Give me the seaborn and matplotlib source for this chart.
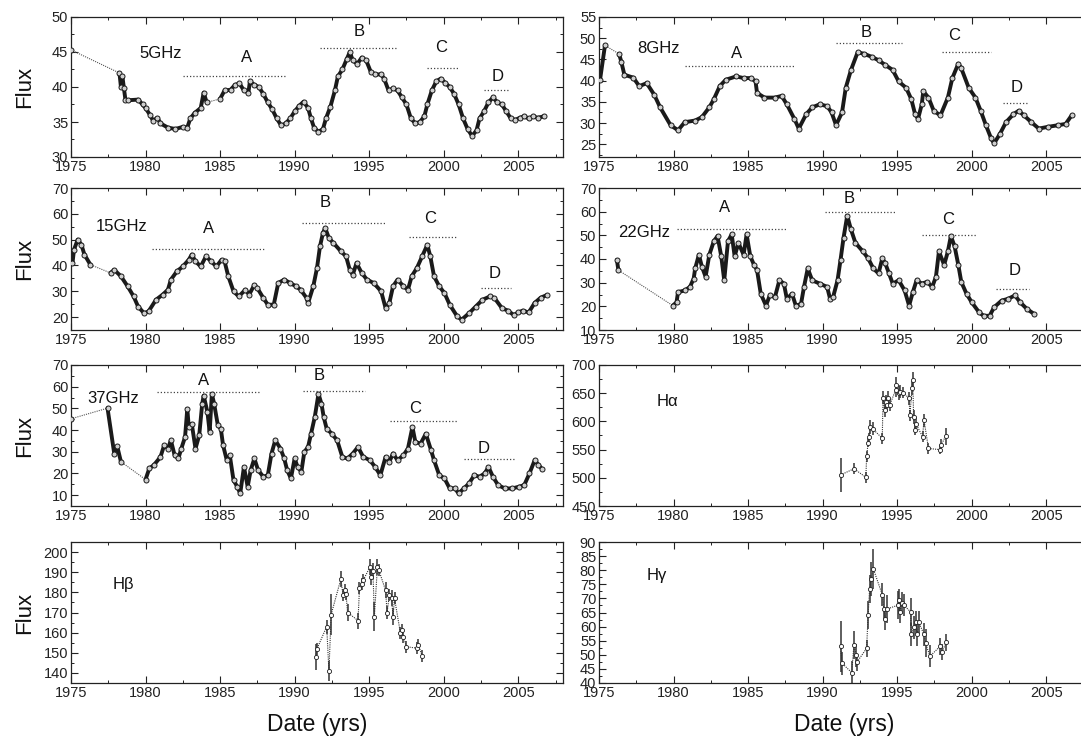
import numpy as np
import pandas as pd
import matplotlib
matplotlib.use("Agg")
import matplotlib.pyplot as plt
from matplotlib.ticker import MultipleLocator
import seaborn as sns

# ---------------- data ----------------
f5_year = [1975.0, 1978.25, 1978.35, 1978.45, 1978.55, 1978.65, 1978.8, 1979.5, 1979.8, 1980.0, 1980.3,
           1980.5, 1980.8, 1981.0, 1981.5, 1982.0, 1982.5, 1982.8, 1983.0, 1983.3, 1983.7, 1983.9,
           1984.1, 1985.0, 1985.3, 1985.7, 1986.0, 1986.3, 1986.6, 1986.9, 1987.0, 1987.3, 1987.6,
           1987.9, 1988.2, 1988.5, 1988.8, 1989.1, 1989.4, 1989.7, 1990.0, 1990.3, 1990.6, 1990.9,
           1991.1, 1991.3, 1991.6, 1991.9, 1992.1, 1992.4, 1992.7, 1992.9, 1993.2, 1993.5, 1993.7,
           1993.9, 1994.2, 1994.5, 1994.8, 1995.1, 1995.4, 1995.8, 1996.0, 1996.3, 1996.6, 1996.9,
           1997.2, 1997.5, 1997.8, 1998.1, 1998.4, 1998.7, 1998.9, 1999.2, 1999.5, 1999.8, 2000.1,
           2000.4, 2000.7, 2001.0, 2001.3, 2001.6, 2001.9, 2002.2, 2002.4, 2002.7, 2003.0, 2003.3,
           2003.6, 2003.9, 2004.2, 2004.5, 2004.8, 2005.1, 2005.4, 2005.7, 2006.0, 2006.3, 2006.7]
f5_flux = [45.3, 42.0, 40.0, 41.5, 39.8, 38.2, 38.1, 38.2, 37.5, 37.0, 36.0,
           35.2, 35.6, 34.8, 34.2, 34.0, 34.3, 34.2, 35.5, 36.3, 37.0, 39.2,
           37.8, 38.3, 39.5, 39.6, 40.3, 40.5, 39.5, 39.2, 40.8, 40.3, 40.0,
           39.0, 37.8, 36.8, 35.5, 34.5, 34.8, 35.5, 36.5, 37.3, 37.9, 37.0,
           35.5, 34.2, 33.6, 34.0, 35.5, 37.2, 39.5, 41.5, 42.5, 44.0, 45.0,
           43.8, 43.3, 44.2, 43.8, 42.2, 41.8, 41.8, 41.2, 39.5, 39.8, 39.5,
           38.5, 37.5, 35.5, 34.8, 35.0, 35.8, 37.5, 39.5, 40.8, 41.2, 40.6,
           40.0, 39.0, 37.5, 35.5, 34.0, 33.0, 33.8, 35.5, 36.5, 37.8, 38.5,
           37.8, 37.5, 36.5, 35.5, 35.3, 35.6, 35.8, 35.5, 35.8, 35.6, 35.8]

f8_year = [1975.07, 1975.4, 1976.35, 1976.5, 1976.7, 1977.3, 1977.7, 1978.2, 1978.7, 1979.1, 1979.8,
           1980.3, 1980.75, 1981.45, 1981.9, 1982.4, 1982.7, 1983.1, 1983.5, 1984.2, 1984.7, 1985.2,
           1985.5, 1985.6, 1986.1, 1986.8, 1987.25, 1987.6, 1988.1, 1988.4, 1988.9, 1989.3, 1989.8,
           1990.3, 1990.6, 1990.9, 1991.3, 1991.55, 1991.9, 1992.35, 1992.8, 1993.3, 1993.75, 1994.2,
           1994.7, 1995.1, 1995.6, 1995.95, 1996.2, 1996.4, 1996.65, 1996.75, 1997.1, 1997.45, 1997.9,
           1998.4, 1998.7, 1999.1, 1999.3, 1999.8, 2000.25, 2000.6, 2000.95, 2001.3, 2001.5, 2001.9,
           2002.3, 2002.8, 2003.15, 2003.5, 2004.0, 2004.5, 2005.1, 2005.8, 2006.3, 2006.7]
f8_flux = [40.2, 48.3, 46.3, 44.4, 41.4, 40.7, 38.7, 39.4, 36.7, 33.7, 29.5,
           28.3, 30.2, 30.6, 31.4, 33.7, 35.6, 38.7, 40.2, 41.0, 40.6, 40.6,
           39.8, 37.1, 36.0, 36.0, 36.4, 34.4, 31.0, 28.7, 32.1, 33.7, 34.4,
           34.0, 32.5, 29.5, 32.5, 38.3, 42.5, 46.7, 46.3, 45.6, 44.8, 43.7,
           42.5, 39.8, 38.3, 35.6, 32.1, 31.0, 34.4, 37.5, 36.0, 32.9, 31.8,
           36.0, 40.6, 44.0, 42.9, 38.3, 36.0, 32.9, 29.5, 26.4, 25.2, 27.5,
           30.2, 32.1, 32.9, 31.8, 30.2, 28.7, 29.1, 29.5, 29.8, 31.8]

f15_year = [1975.1, 1975.2, 1975.45, 1975.7, 1975.9, 1976.3, 1977.65, 1977.9, 1978.35, 1978.8, 1979.2,
            1979.5, 1979.9, 1980.2, 1980.7, 1981.15, 1981.5, 1981.7, 1982.1, 1982.5, 1982.9, 1983.1,
            1983.35, 1983.7, 1984.05, 1984.4, 1984.75, 1985.1, 1985.3, 1985.55, 1985.9, 1986.25, 1986.7,
            1986.95, 1987.3, 1987.5, 1987.9, 1988.2, 1988.6, 1988.9, 1989.3, 1989.7, 1990.1, 1990.4,
            1990.8, 1990.9, 1991.25, 1991.5, 1991.7, 1991.9, 1992.05, 1992.3, 1992.6, 1993.1, 1993.45,
            1993.7, 1993.9, 1994.15, 1994.5, 1994.85, 1995.3, 1995.8, 1996.1, 1996.35, 1996.6, 1996.9,
            1997.3, 1997.6, 1997.85, 1998.2, 1998.55, 1998.9, 1999.1, 1999.35, 1999.7, 2000.05, 2000.4,
            2000.9, 2001.2, 2001.7, 2002.15, 2002.6, 2003.1, 2003.4, 2003.9, 2004.3, 2004.7, 2005.0,
            2005.3, 2005.7, 2006.1, 2006.5, 2006.9]
f15_flux = [40.9, 46.1, 50.0, 48.0, 44.2, 40.3, 37.1, 38.3, 35.8, 31.9, 28.0,
            24.1, 21.5, 22.2, 26.7, 28.7, 30.6, 34.5, 37.7, 39.6, 42.2, 44.2,
            41.6, 39.6, 43.5, 41.6, 39.6, 42.2, 41.6, 35.8, 30.0, 28.0, 30.6,
            28.7, 32.5, 31.2, 27.4, 24.8, 24.8, 33.2, 34.5, 33.2, 31.9, 30.6,
            27.4, 25.4, 31.9, 39.0, 47.4, 52.6, 54.5, 50.6, 48.7, 45.5, 43.5,
            38.3, 36.4, 40.9, 37.1, 34.5, 33.2, 30.0, 23.5, 25.4, 31.9, 34.5,
            31.9, 30.6, 35.8, 39.0, 43.5, 48.0, 43.5, 35.8, 31.9, 29.3, 24.8,
            20.3, 19.0, 21.5, 24.1, 26.7, 28.0, 27.4, 23.5, 22.5, 20.8, 21.8,
            22.5, 21.8, 25.5, 27.5, 28.5]

f22_year = [1976.2, 1976.3, 1979.95, 1980.2, 1980.3, 1980.75, 1981.1, 1981.35, 1981.45, 1981.7, 1981.9,
            1982.15, 1982.4, 1982.7, 1982.95, 1983.2, 1983.4, 1983.65, 1983.9, 1984.1, 1984.35, 1984.7,
            1984.9, 1985.15, 1985.4, 1985.6, 1985.85, 1986.2, 1986.45, 1986.8, 1987.1, 1987.4, 1987.6,
            1987.95, 1988.2, 1988.55, 1988.75, 1989.0, 1989.3, 1989.8, 1990.3, 1990.5, 1990.7, 1991.0,
            1991.2, 1991.4, 1991.65, 1991.9, 1992.2, 1992.7, 1993.05, 1993.4, 1993.75, 1994.0, 1994.2,
            1994.45, 1994.7, 1995.1, 1995.5, 1995.8, 1996.05, 1996.3, 1996.65, 1997.0, 1997.35, 1997.6,
            1997.8, 1998.15, 1998.4, 1998.6, 1998.85, 1999.1, 1999.3, 1999.65, 2000.0, 2000.5, 2000.8,
            2001.2, 2001.5, 2002.0, 2002.45, 2002.9, 2003.25, 2003.7, 2004.2]
f22_flux = [39.6, 35.3, 20.3, 21.7, 26.0, 26.7, 28.2, 31.7, 36.0, 41.8, 36.8,
            32.5, 41.8, 47.5, 49.7, 41.1, 31.0, 47.5, 50.4, 41.1, 46.8, 41.8,
            50.4, 41.1, 37.5, 35.3, 25.3, 20.3, 24.6, 23.9, 31.0, 29.6, 23.2,
            25.3, 20.3, 21.0, 28.2, 36.0, 31.0, 29.6, 28.2, 23.2, 23.9, 31.0,
            39.6, 48.9, 58.3, 52.5, 46.8, 43.2, 40.3, 36.0, 33.9, 40.3, 38.2,
            33.9, 29.6, 31.0, 26.7, 20.3, 26.0, 31.0, 29.6, 30.3, 28.2, 32.5,
            43.2, 37.5, 43.2, 49.7, 45.4, 37.5, 30.3, 25.3, 21.7, 17.4, 16.0,
            16.0, 19.6, 22.4, 23.2, 24.6, 21.7, 18.9, 16.7]

f37_year = [1975.0, 1977.45, 1977.9, 1978.1, 1978.35, 1980.0, 1980.25, 1980.55, 1981.0, 1981.25, 1981.5,
            1981.7, 1981.95, 1982.2, 1982.4, 1982.65, 1982.8, 1982.9, 1983.1, 1983.35, 1983.6, 1983.8,
            1983.9, 1984.15, 1984.3, 1984.45, 1984.6, 1984.85, 1985.05, 1985.2, 1985.45, 1985.65, 1985.9,
            1986.15, 1986.35, 1986.6, 1986.85, 1987.05, 1987.3, 1987.55, 1987.9, 1988.2, 1988.45, 1988.7,
            1989.05, 1989.3, 1989.5, 1989.75, 1990.0, 1990.2, 1990.45, 1990.65, 1990.9, 1991.1, 1991.35,
            1991.6, 1991.8, 1991.95, 1992.15, 1992.5, 1992.85, 1993.2, 1993.55, 1993.9, 1994.25, 1994.6,
            1995.05, 1995.4, 1995.75, 1996.1, 1996.35, 1996.6, 1996.9, 1997.3, 1997.6, 1997.9, 1998.1,
            1998.45, 1998.8, 1999.15, 1999.35, 1999.7, 2000.05, 2000.4, 2000.75, 2001.0, 2001.35, 2001.7,
            2002.05, 2002.4, 2002.75, 2003.0, 2003.3, 2003.65, 2004.1, 2004.6, 2005.05, 2005.4, 2005.75,
            2006.1, 2006.35, 2006.6]
f37_flux = [45.2, 50.1, 29.2, 32.5, 25.4, 17.2, 22.3, 23.8, 27.6, 33.0, 31.5,
            35.3, 28.4, 26.9, 31.5, 36.8, 49.8, 41.4, 42.9, 31.5, 37.6, 52.1,
            55.9, 48.3, 39.1, 56.7, 52.1, 42.2, 40.6, 33.0, 26.1, 28.4, 16.9,
            13.9, 10.8, 23.0, 13.9, 21.5, 26.9, 21.5, 18.5, 19.2, 29.2, 35.3,
            31.5, 26.9, 21.5, 17.7, 26.9, 23.0, 20.8, 29.9, 32.2, 38.3, 46.0,
            56.7, 52.1, 46.0, 40.6, 38.3, 35.3, 27.6, 26.9, 29.2, 32.2, 27.6,
            26.1, 23.0, 19.2, 27.6, 25.4, 29.2, 26.1, 28.4, 31.5, 41.4, 34.5,
            33.8, 38.3, 30.7, 26.1, 19.2, 17.7, 13.1, 13.1, 10.8, 13.1, 15.4,
            19.2, 18.5, 20.0, 23.0, 18.5, 14.6, 13.1, 13.1, 13.9, 14.6, 20.0,
            26.1, 24.0, 22.0]

ha_year = [1991.2, 1992.1, 1992.9, 1992.95, 1993.05, 1993.1, 1993.2, 1993.35, 1994.0, 1994.05, 1994.15,
           1994.25, 1994.3, 1994.4, 1994.5, 1994.9, 1994.95, 1995.1, 1995.2, 1995.4, 1995.8, 1995.85,
           1996.0, 1996.05, 1996.1, 1996.2, 1996.25, 1996.7, 1996.8, 1997.1, 1997.85, 1997.95, 1998.25]
ha_flux = [505, 516, 501, 538, 562, 572, 590, 587, 570, 642, 620,
           635, 629, 642, 629, 656, 664, 650, 653, 651, 641, 611,
           659, 673, 608, 585, 596, 573, 602, 552, 550, 558, 574]
ha_err = [30, 10, 10, 10, 8, 8, 12, 12, 10, 12, 12,
          12, 10, 12, 10, 12, 14, 12, 12, 10, 12, 10,
          12, 15, 12, 10, 12, 10, 12, 10, 8, 10, 15]

hb_year = [1991.4, 1991.5, 1992.15, 1992.3, 1992.45, 1993.1, 1993.25, 1993.4, 1993.45, 1993.55, 1994.25,
           1994.35, 1994.5, 1994.6, 1995.05, 1995.15, 1995.25, 1995.35, 1995.55, 1995.65, 1996.1, 1996.2,
           1996.35, 1996.5, 1996.6, 1996.7, 1997.1, 1997.2, 1997.3, 1997.5, 1998.2, 1998.3, 1998.55]
hb_flux = [148, 152, 163, 141, 169, 186.6, 178.5, 181, 179, 170, 166,
           182, 184, 186, 192.6, 187.5, 190.7, 168, 192.6, 191, 181, 170,
           178.5, 177, 168, 177, 159.6, 161.3, 158, 153, 152.3, 154, 148.5]
hb_err = [6.5, 3, 3.5, 5, 10, 4, 3, 3, 3, 4, 4,
          3, 3, 3, 4, 4, 4, 7, 4, 3, 4, 3,
          3, 4, 4, 3, 3, 3, 3, 3, 3, 3, 3]

hg_year = [1991.2, 1991.3, 1991.95, 1992.1, 1992.25, 1992.3, 1992.95, 1993.05, 1993.15, 1993.25, 1993.4,
           1994.0, 1994.1, 1994.2, 1994.3, 1995.05, 1995.15, 1995.2, 1995.3, 1995.45, 1995.9, 1995.95,
           1996.1, 1996.25, 1996.35, 1996.45, 1996.8, 1996.9, 1997.2, 1997.9, 1998.0, 1998.3]
hg_flux = [53, 47, 43.7, 53.5, 49.8, 47.4, 52.3, 64, 73.2, 77, 80.5,
           71.3, 66.4, 62.7, 66.2, 67.6, 69.5, 65.2, 68.3, 67.6, 65.2, 57.2,
           59.7, 61.5, 57.2, 61.5, 57.2, 54.1, 49.5, 53.1, 51, 54.5]
hg_err = [9, 4, 4, 5, 4, 3, 3, 5, 5, 6, 7,
          4, 4, 4, 5, 5, 4, 4, 4, 4, 5, 4,
          4, 4, 4, 4, 4, 5, 4, 3, 3, 3]

band_labels = ["5GHz", "8GHz", "15GHz", "22GHz", "37GHz", "H\u03b1", "H\u03b2", "H\u03b3"]
xtick_years = [1975, 1980, 1985, 1990, 1995, 2000, 2005]

# flare annotations: (letter, line start, line end, line level, text x, text y)
ann5 = [("A", 1982.5, 1989.4, 41.6, 1986.8, 44.2), ("B", 1991.7, 1996.8, 45.6, 1994.3, 47.9),
        ("C", 1998.9, 2001.0, 42.7, 1999.8, 45.6), ("D", 2002.7, 2004.4, 39.5, 2003.6, 41.5)]
ann8 = [("A", 1980.75, 1988.1, 43.5, 1984.2, 46.3), ("B", 1990.9, 1995.3, 48.8, 1992.9, 51.3),
        ("C", 1998.0, 2001.3, 46.7, 1998.8, 50.7), ("D", 2002.1, 2003.8, 34.8, 2003.0, 38.3)]
ann15 = [("A", 1980.4, 1988.0, 46.5, 1984.2, 54.5), ("B", 1990.5, 1996.1, 56.4, 1992.05, 64.2),
         ("C", 1997.7, 2000.9, 51.0, 1999.1, 58.0), ("D", 2002.5, 2004.5, 31.2, 2003.4, 36.7)]
ann22 = [("A", 1980.2, 1987.6, 52.8, 1983.4, 61.8), ("B", 1990.15, 1994.9, 60.0, 1991.8, 65.4),
         ("C", 1996.65, 2000.35, 50.0, 1998.4, 56.8), ("D", 2001.6, 2003.85, 27.2, 2002.9, 35.0)]
ann37 = [("A", 1980.75, 1987.6, 57.5, 1983.9, 62.8), ("B", 1990.55, 1994.7, 57.9, 1991.65, 65.1),
         ("C", 1996.4, 2000.9, 44.0, 1998.1, 49.8), ("D", 2001.35, 2004.8, 26.7, 2002.7, 31.5)]

# ---------------- style ----------------
sns.set_theme(style="ticks")
plt.rcParams["font.family"] = ["Liberation Sans", "DejaVu Sans"]
plt.rcParams["axes.linewidth"] = 0.9
plt.rcParams["axes.edgecolor"] = "#222222"

W, H = 1081, 740
fig = plt.figure(figsize=(W / 100, H / 100), dpi=100)

col_x = [71, 599]
col_w = 492
rows = [(17, 157), (188, 330), (365, 506), (542, 683)]


def make_ax(r, c):
    top, bot = rows[r]
    return fig.add_axes([col_x[c] / W, 1 - bot / H, col_w / W, (bot - top) / H])


def style_ax(ax, ylim, ymaj, ymin):
    ax.set_xlim(1975, 2008)
    ax.set_ylim(*ylim)
    ax.xaxis.set_major_locator(MultipleLocator(5))
    ax.xaxis.set_minor_locator(MultipleLocator(2.5))
    ax.yaxis.set_major_locator(MultipleLocator(ymaj))
    ax.yaxis.set_minor_locator(MultipleLocator(ymin))
    ax.set_xticks(xtick_years)
    ax.set_xticklabels([str(y) for y in xtick_years])
    ax.tick_params(which="both", direction="in", top=True, right=True,
                   labelsize=10.5, colors="#222222", pad=2)
    ax.tick_params(which="major", length=5, width=0.8)
    ax.tick_params(which="minor", length=2.5, width=0.7)
    ax.set_xlabel("")
    ax.set_ylabel("")
    for s in ax.spines.values():
        s.set_visible(True)


def radio(ax, years, flux, ann, label, lx, ly, ylim, ymaj, ymin):
    df = pd.DataFrame({"year": years, "flux": flux})
    df["seg"] = np.concatenate([[0], np.cumsum(np.diff(df["year"].values) > 0.8)])
    sns.lineplot(data=df, x="year", y="flux", ax=ax, color="#555555", lw=0.8,
                 linestyle=(0, (1, 1)), sort=False, estimator=None)
    sns.lineplot(data=df, x="year", y="flux", units="seg", estimator=None, sort=False,
                 ax=ax, color="#1a1a1a", lw=2.8)
    sns.scatterplot(data=df, x="year", y="flux", ax=ax, s=13, marker="o",
                    facecolor="#cfcfcf", edgecolor="#1a1a1a", linewidth=0.7, zorder=3)
    for letter, x0, x1, yl, tx, ty in ann:
        ax.plot([x0, x1], [yl, yl], color="#444444", lw=0.9, linestyle=(0, (1, 1.6)))
        ax.text(tx, ty, letter, ha="center", va="center", fontsize=12, color="#111111")
    ax.text(lx, ly, label, ha="center", va="center", fontsize=12, color="#111111")
    style_ax(ax, ylim, ymaj, ymin)


def optical(ax, years, flux, err, label, lx, ly, ylim, ymaj, ymin):
    df = pd.DataFrame({"year": years, "flux": flux, "err": err})
    ax.errorbar(df["year"], df["flux"], yerr=df["err"], fmt="none", ecolor="#333333",
                elinewidth=1.1, capsize=0, zorder=2)
    sns.lineplot(data=df, x="year", y="flux", ax=ax, color="#333333", lw=0.8,
                 linestyle=(0, (1, 1)), sort=False, estimator=None)
    sns.scatterplot(data=df, x="year", y="flux", ax=ax, s=9, marker="o",
                    facecolor="white", edgecolor="#1e1e1e", linewidth=0.6, zorder=3)
    ax.text(lx, ly, label, ha="center", va="center", fontsize=12, color="#111111")
    style_ax(ax, ylim, ymaj, ymin)


ax = make_ax(0, 0)
radio(ax, f5_year, f5_flux, ann5, band_labels[0], 1981.0, 44.8, (30, 50), 5, 2.5)
ax = make_ax(0, 1)
radio(ax, f8_year, f8_flux, ann8, band_labels[1], 1979.0, 47.6, (22, 55), 5, 2.5)
ax = make_ax(1, 0)
radio(ax, f15_year, f15_flux, ann15, band_labels[2], 1978.4, 55.1, (15, 70), 10, 5)
ax = make_ax(1, 1)
radio(ax, f22_year, f22_flux, ann22, band_labels[3], 1978.0, 51.4, (10, 70), 10, 5)
ax = make_ax(2, 0)
radio(ax, f37_year, f37_flux, ann37, band_labels[4], 1977.8, 54.4, (5, 70), 10, 5)
ax = make_ax(2, 1)
optical(ax, ha_year, ha_flux, ha_err, band_labels[5], 1979.6, 635, (450, 700), 50, 25)
ax = make_ax(3, 0)
optical(ax, hb_year, hb_flux, hb_err, band_labels[6], 1978.5, 184, (135, 205), 10, 5)
ax = make_ax(3, 1)
optical(ax, hg_year, hg_flux, hg_err, band_labels[7], 1978.9, 78, (40, 90), 5, 2.5)

# axis titles
for top, bot in rows:
    fig.text(25 / W, 1 - (top + bot) / 2 / H, "Flux", rotation=90, ha="center", va="center",
             fontsize=16, color="#111111")
fig.text((71 + 563) / 2 / W, 1 - 724 / H, "Date (yrs)", ha="center", va="center",
         fontsize=16.5, color="#111111")
fig.text((599 + 1090) / 2 / W, 1 - 724 / H, "Date (yrs)", ha="center", va="center",
         fontsize=16.5, color="#111111")

fig.savefig("out.png", dpi=100, facecolor="white")
